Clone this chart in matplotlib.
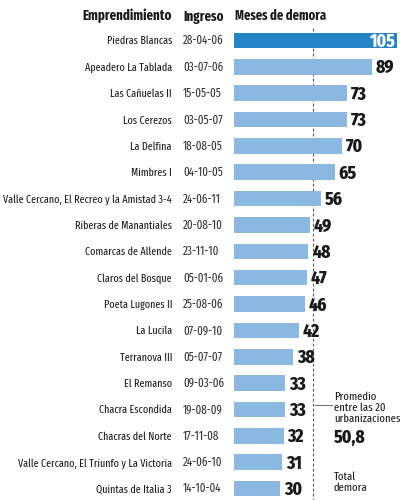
import matplotlib
matplotlib.use("Agg")
import matplotlib.pyplot as plt
import matplotlib.transforms as mtransforms
from matplotlib import font_manager

names = ["Piedras Blancas", "Apeadero La Tablada", "Las Cañuelas II", "Los Cerezos",
         "La Delfina", "Mimbres I", "Valle Cercano, El Recreo y la Amistad 3-4",
         "Riberas de Manantiales", "Comarcas de Allende", "Claros del Bosque",
         "Poeta Lugones II", "La Lucila", "Terranova III", "El Remanso",
         "Chacra Escondida", "Chacras del Norte", "Valle Cercano, El Triunfo y La Victoria",
         "Quintas de Italia 3"]
dates = ["28-04-06", "03-07-06", "15-05-05", "03-05-07", "18-08-05", "04-10-05",
         "24-06-11", "20-08-10", "23-11-10", "05-01-06", "25-08-06", "07-09-10",
         "05-07-07", "09-03-06", "19-08-09", "17-11-08", "24-06-10", "14-10-04"]
months = [105, 89, 73, 73, 70, 65, 56, 49, 48, 47, 46, 42, 38, 33, 33, 32, 31, 30]
average = 50.8

avail = {f.name for f in font_manager.fontManager.ttflist}
fam_x = [f for f in ["Fira Sans Extra Condensed", "Fira Sans Condensed", "Roboto Condensed", "DejaVu Sans"] if f in avail]
fam_c = [f for f in ["Fira Sans Condensed", "Roboto Condensed", "DejaVu Sans"] if f in avail]
plt.rcParams['font.family'] = fam_x

W, H = 400, 500
DPI = 100
fig = plt.figure(figsize=(4, 5), dpi=DPI)
x0, x1 = 234, 396.5
row0, rowN = 40.5, 488.5
n = len(names)
step = (rowN - row0) / (n - 1)
top_px = row0 - step / 2
bot_px = rowN + step / 2
ax = fig.add_axes([x0 / W, 1 - bot_px / H, (x1 - x0) / W, (bot_px - top_px) / H])
ax.set_xlim(0, 105)
ax.set_ylim(n - 0.5, -0.5)
ax.axis('off')

dark = "#2484c6"
light = "#8ab8e0"
txt = "#1a1a1a"
ys = list(range(n))
colors = [dark] + [light] * (n - 1)
ax.barh(ys, months, height=0.59, color=colors, zorder=2)

# dashed average line from y=27px to bottom
ymax_frac = (bot_px - 27) / (bot_px - top_px)
ax.axvline(average, ymin=-0.01, ymax=ymax_frac, color="#555555", lw=0.8,
           ls=(0, (2.5, 2)), zorder=1, clip_on=False)

def off(dy_px):
    return mtransforms.ScaledTranslation(0, -dy_px / DPI, fig.dpi_scale_trans)

trans = mtransforms.blended_transform_factory(fig.transFigure, ax.transData)
for i, (nm, d, v) in enumerate(zip(names, dates, months)):
    ax.text(172 / W, i, nm, transform=trans + off(4), ha='right', va='baseline',
            fontsize=7.9, color=txt)
    ax.text(183 / W, i, d, transform=trans + off(4), ha='left', va='baseline',
            fontsize=8.6, color="#333333")
    if i == 0:
        ax.text(v - 1, i, str(v), transform=ax.transData + off(6.5), ha='right', va='baseline',
                fontsize=12.5, fontweight=800, color='white', zorder=3, family=fam_c)
    else:
        ax.text(v + 2.5, i, str(v), transform=ax.transData + off(6.5), ha='left', va='baseline',
                fontsize=12.5, fontweight=800, color=txt, zorder=3, family=fam_c)

# headers
hy = 1 - 20.5 / H
fig.text(172 / W, hy, "Emprendimiento", ha='right', va='baseline', fontsize=10.1, fontweight='bold', color=txt)
fig.text(183 / W, hy, "Ingreso", ha='left', va='baseline', fontsize=10.1, fontweight='bold', color=txt)
fig.text(235 / W, hy, "Meses de demora", ha='left', va='baseline', fontsize=9.8, fontweight='bold', color=txt)

# average annotation
ya = 1 - 405 / H
fig.add_artist(plt.Line2D([315 / W, 332 / W], [ya, ya], color="#777777", lw=0.8))
fig.text(334 / W, 1 - 392 / H, "Promedio\nentre las 20\nurbanizaciones", ha='left', va='top',
         fontsize=8.3, color=txt, linespacing=1.0)
fig.text(334 / W, 1 - 443 / H, "50,8", ha='left', va='baseline', fontsize=12.5,
         fontweight=800, color=txt, family=fam_c)
fig.text(334 / W, 1 - 472 / H, "Total\ndemora", ha='left', va='top',
         fontsize=8.3, color=txt, linespacing=1.0)

fig.savefig("out.png", dpi=DPI, facecolor='white')
